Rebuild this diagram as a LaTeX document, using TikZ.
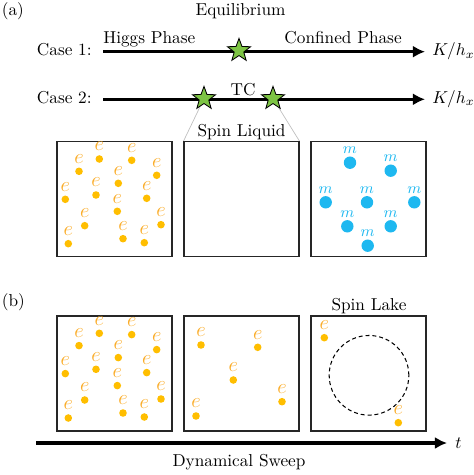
\documentclass[tikz,border=0pt]{standalone}
\usetikzlibrary{shapes.geometric,arrows.meta,backgrounds}
\definecolor{egold}{RGB}{255,190,0}
\definecolor{elabcol}{RGB}{250,172,40}
\definecolor{mblue}{RGB}{30,184,240}
\definecolor{stargreen}{RGB}{125,196,68}
\begin{document}
\begin{tikzpicture}[x=0.58pt,y=-0.58pt,
  axis/.style={line width=1.75pt,-{Latex[length=7pt,width=7pt]}},
  panel/.style={rectangle,draw=black!85,line width=0.6pt,minimum width=66.7pt,minimum height=66.7pt,inner sep=0pt},
  mystar/.style={star,star points=5,star point ratio=2.4,fill=stargreen,draw=black,line width=0.5pt,minimum size=14pt,inner sep=0pt},
  edot/.style={circle,fill=egold,minimum size=4.4pt,inner sep=0pt},
  elabel/.style={text=elabcol,inner sep=0pt,font=\fontsize{12}{14}\selectfont},
  mdot/.style={circle,fill=mblue,minimum size=7.2pt,inner sep=0pt},
  mlabel/.style={text=mblue,inner sep=0pt,font=\small},
  txt/.style={inner sep=0pt,anchor=base},
  guide/.style={draw=black!25,line width=0.4pt},
  lake/.style={circle,draw=black,line width=0.6pt,dash pattern=on 2.3pt off 1.7pt,minimum size=46.2pt,inner sep=0pt}]
\useasboundingbox (0,0) rectangle (473,475);

% labels
\node[txt,anchor=base west] (lba) at (1.5,15.2) {(a)};
\node[txt] (equil) at (240.5,16) {Equilibrium};
\node[txt,anchor=base east] (case1) at (92,56) {Case 1:};
\node[txt,anchor=base east] (case2) at (92,103.3) {Case 2:};
\node[txt,anchor=base west] (higgs) at (103,44) {Higgs Phase};
\node[txt,anchor=base east] (conf) at (402,44) {Confined Phase};
\node[txt,anchor=base west] (kh1) at (432,56) {$K/h_x$};
\node[txt,anchor=base west] (kh2) at (432,103.3) {$K/h_x$};
\node[txt] (tc) at (243,96) {TC};
\node[txt] (sliq) at (241.5,137) {Spin Liquid};

% axes
\coordinate (c1s) at (103,51.7);
\coordinate (c1e) at (425,51.7);
\coordinate (c2s) at (103,99.3);
\coordinate (c2e) at (425,99.3);
\draw[axis] (c1s) -- (c1e);
\draw[axis] (c2s) -- (c2e);

% panels (a)
\node[panel] (A1) at (114.5,199.2) {};
\node[panel] (A2) at (241.5,199.2) {};
\node[panel] (A3) at (368.5,199.2) {};

% stars
\node[mystar] (s1) at (239,50.5) {};
\node[mystar] (s2) at (204,98.5) {};
\node[mystar] (s3) at (273,98.5) {};
\begin{scope}[on background layer]
\draw[guide] (s2.center) -- (A2.north west);
\draw[guide] (s3.center) -- (A2.north east);
\end{scope}

% e particles (a)
\begin{scope}[shift={(57,141.7)}]
\foreach \x/\y [count=\i] in {42.3/17.3,74.7/18.6,22/29.6,99.7/33.6,61.3/41.6,8.3/57.6,39/53.3,89.7/56.6,60.3/69.6,27.7/84,104/83,11.3/102,66/97,87.3/101}{
  \node[edot] (ea\i) at (\x,\y) {};
  \node[elabel] (eal\i) at (\x,{\y-12.5}) {$e$};
}
\end{scope}

% m particles
\foreach \x/\y [count=\i] in {350/162.7,390.7/170.7,325.7/202.3,367/202.3,414.3/202.3,347.3/226.3,390.7/226.3,367.7/245.7}{
  \node[mdot] (m\i) at (\x,\y) {};
  \node[mlabel] (ml\i) at (\x,{\y-12.5}) {$m$};
}

% (b)
\node[txt,anchor=base west] (lbb) at (1.5,306) {(b)};
\node[panel] (B1) at (114.5,373.5) {};
\node[panel] (B2) at (241.5,373.5) {};
\node[panel] (B3) at (368.5,373.5) {};
\node[txt] (slake) at (369,310) {Spin Lake};

\begin{scope}[shift={(57,316)}]
\foreach \x/\y [count=\i] in {42.3/17.3,74.7/18.6,22/29.6,99.7/33.6,61.3/41.6,8.3/57.6,39/53.3,89.7/56.6,60.3/69.6,27.7/84,104/83,11.3/102,66/97,87.3/101}{
  \node[edot] (eb\i) at (\x,\y) {};
  \node[elabel] (ebl\i) at (\x,{\y-12.5}) {$e$};
}
\end{scope}
\foreach \x/\y [count=\i] in {201/345,257.7/347.3,233.3/380,282/401.7,196/416}{
  \node[edot] (ec\i) at (\x,\y) {};
  \node[elabel] (ecl\i) at (\x,{\y-12.5}) {$e$};
}
\foreach \x/\y [count=\i] in {324.3/337.7,398.3/422.7}{
  \node[edot] (ed\i) at (\x,\y) {};
  \node[elabel] (edl\i) at (\x,{\y-12.5}) {$e$};
}
\node[lake] (lk) at (369,375.3) {};

\coordinate (ts) at (36,443);
\coordinate (te) at (447,443);
\draw[axis] (ts) -- (te);
\node[txt,anchor=base west] (tl) at (455,448) {$t$};
\node[txt] (dsw) at (239,466.5) {Dynamical Sweep};
\end{tikzpicture}
\end{document}
